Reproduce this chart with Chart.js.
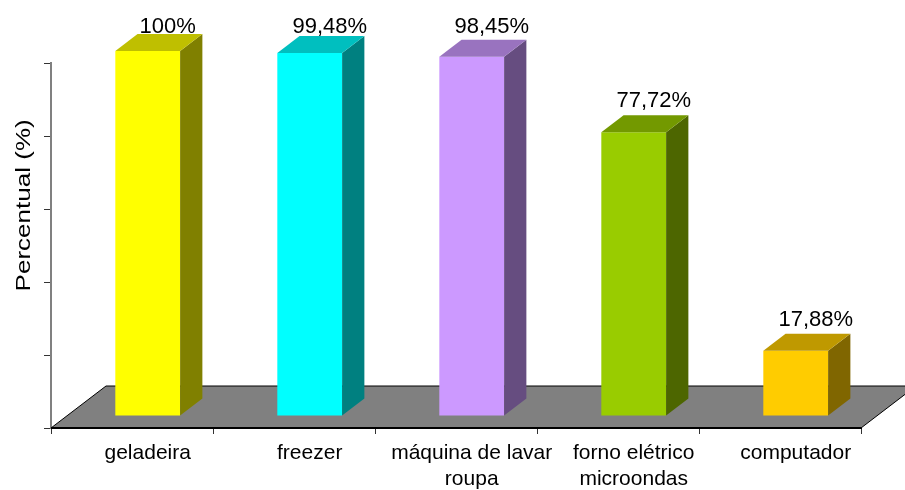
<!DOCTYPE html>
<html>
<head>
<meta charset="utf-8">
<script src="https://cdn.jsdelivr.net/npm/chart.js@4.4.1/dist/chart.umd.min.js"></script>
<style>
  html, body { margin: 0; padding: 0; background: #fff; }
</style>
</head>
<body>
<canvas id="chart" width="905" height="490"></canvas>
<script>
var categories = ['geladeira', 'freezer', ['máquina de lavar', 'roupa'], ['forno elétrico', 'microondas'], 'computador'];
var percentValues = [100, 99.48, 98.45, 77.72, 17.88];
var barColors = ['#FFFF00', '#00FFFF', '#CC99FF', '#99CC00', '#FFCC00'];
var yTicks = [0, 20, 40, 60, 80, 100];
var yTitle = 'Percentual (%)';

var fontFamily = '"Liberation Sans", Arial, sans-serif';

// 3d look: the floor goes back/right, bars stand a bit inside it
var floorDx = 55, floorDy = 42;
var barFront = 12 / 42;
var barDepth = 17 / 42;

function shade(hex, f) {
  var n = parseInt(hex.slice(1), 16);
  var r = Math.round(((n >> 16) & 255) * f);
  var g = Math.round(((n >> 8) & 255) * f);
  var b = Math.round((n & 255) * f);
  return 'rgb(' + r + ',' + g + ',' + b + ')';
}

function pctText(v) {
  return (Math.round(v * 100) / 100).toString().replace('.', ',') + '%';
}

var depthPlugin = {
  id: 'depth3d',
  beforeDatasetsDraw: function(chart) {
    var a = chart.chartArea, ctx = chart.ctx;
    // grey floor
    ctx.save();
    ctx.beginPath();
    ctx.moveTo(a.left, a.bottom);
    ctx.lineTo(a.right, a.bottom);
    ctx.lineTo(a.right + floorDx, a.bottom - floorDy);
    ctx.lineTo(a.left + floorDx, a.bottom - floorDy);
    ctx.closePath();
    ctx.fillStyle = '#808080';
    ctx.fill();
    ctx.lineWidth = 1;
    ctx.strokeStyle = '#000';
    ctx.stroke();
    ctx.beginPath();
    ctx.moveTo(a.left, a.bottom);
    ctx.lineTo(a.right, a.bottom);
    ctx.lineWidth = 2;
    ctx.stroke();
    ctx.restore();
    // bar fronts are drawn pushed back into the floor
    ctx.save();
    ctx.translate(floorDx * barFront, -floorDy * barFront);
  },
  afterDatasetsDraw: function(chart) {
    var ctx = chart.ctx, a = chart.chartArea;
    ctx.restore();
    var ox = floorDx * barFront, oy = -floorDy * barFront;
    var dx = floorDx * barDepth, dy = floorDy * barDepth;
    var meta = chart.getDatasetMeta(0);
    meta.data.forEach(function(bar, i) {
      var p = bar.getProps(['x', 'y', 'base', 'width'], true);
      var l = p.x - p.width / 2 + ox, r = p.x + p.width / 2 + ox;
      var t = p.y + oy, b = p.base + oy;
      ctx.save();
      // right side
      ctx.fillStyle = shade(barColors[i], 0.5);
      ctx.beginPath();
      ctx.moveTo(r, t);
      ctx.lineTo(r + dx, t - dy);
      ctx.lineTo(r + dx, b - dy);
      ctx.lineTo(r, b);
      ctx.closePath();
      ctx.fill();
      // top
      ctx.fillStyle = shade(barColors[i], 0.75);
      ctx.beginPath();
      ctx.moveTo(l, t);
      ctx.lineTo(l + dx, t - dy);
      ctx.lineTo(r + dx, t - dy);
      ctx.lineTo(r, t);
      ctx.closePath();
      ctx.fill();
      // value label
      ctx.fillStyle = '#000';
      ctx.font = '22px ' + fontFamily;
      ctx.textAlign = 'center';
      ctx.textBaseline = 'alphabetic';
      ctx.fillText(pctText(percentValues[i]), (l + r) / 2 + dx * 0.9, Math.max(t - dy - 8, a.top - 30));
      ctx.restore();
    });
  },
  afterDraw: function(chart) {
    var ctx = chart.ctx, a = chart.chartArea;
    ctx.save();
    ctx.translate(a.left - 21, a.top + (a.bottom - a.top) * 0.39);
    ctx.rotate(-Math.PI / 2);
    ctx.scale(1.24, 1);
    ctx.fillStyle = '#000';
    ctx.font = '21px ' + fontFamily;
    ctx.textAlign = 'center';
    ctx.textBaseline = 'alphabetic';
    ctx.fillText(yTitle, 0, 0);
    ctx.restore();
  }
};

new Chart(document.getElementById('chart'), {
  type: 'bar',
  data: {
    labels: categories,
    datasets: [{
      data: percentValues,
      backgroundColor: barColors,
      borderWidth: 0,
      categoryPercentage: 1,
      barPercentage: 0.4,
      clip: false
    }]
  },
  options: {
    responsive: false,
    animation: false,
    layout: { padding: { top: 63, right: 44, left: 0, bottom: 0 } },
    plugins: {
      legend: { display: false },
      tooltip: { enabled: false }
    },
    scales: {
      x: {
        grid: { drawOnChartArea: false, tickLength: 6, color: '#333', offset: true },
        border: { color: '#000', width: 2 },
        ticks: {
          color: '#000',
          font: { family: fontFamily, size: 21 },
          padding: 7,
          labelOffset: floorDx * barFront,
          maxRotation: 0,
          autoSkip: false
        },
        afterFit: function(s) { s.height = 62; }
      },
      y: {
        min: yTicks[0],
        max: yTicks[yTicks.length - 1],
        ticks: { stepSize: yTicks[1] - yTicks[0], display: false },
        grid: { drawOnChartArea: false, tickLength: 7, color: '#333' },
        border: { color: '#808080', width: 2 },
        afterFit: function(s) { s.width = 51; }
      }
    }
  },
  plugins: [depthPlugin]
});
</script>
</body>
</html>
